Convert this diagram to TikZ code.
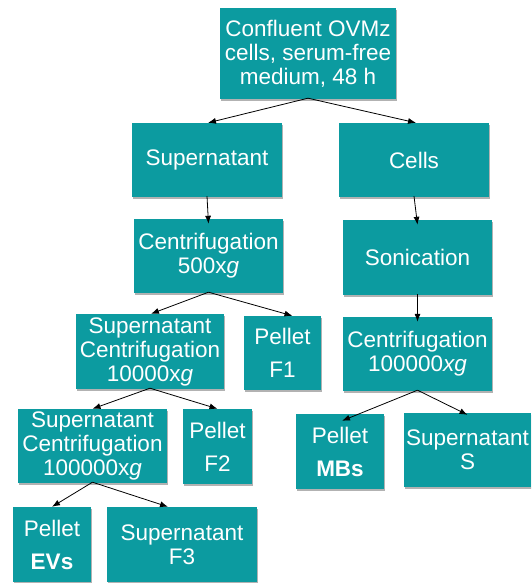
\documentclass[tikz,border=0pt]{standalone}
\usepackage{fontspec}
\setmainfont{Liberation Sans}
\usetikzlibrary{arrows.meta,shadows}
\definecolor{tealbox}{RGB}{12,155,160}
\tikzset{
  box/.style={rectangle, fill=tealbox, text=white, align=center, inner sep=0pt,
    font=\fontsize{22.5}{24}\selectfont,
    drop shadow={shadow xshift=1.2pt, shadow yshift=-1.8pt, opacity=0.3, fill=black}},
  link/.style={->, line width=0.8pt}
}
\begin{document}
\begin{tikzpicture}[x=1pt, y=-1pt, >={Latex[length=8pt,width=6pt]}]
\useasboundingbox (0,0) rectangle (531,583);
\clip (0,0) rectangle (531,583);
% top of the tree
\node[box, minimum width=176, minimum height=91] (start) at (308,53.5)
  {Confluent OVMz\\cells, serum-free\\medium, 48 h};
\node[box, minimum width=150, minimum height=74] (sup) at (207,160) {Supernatant};
\node[box, minimum width=150, minimum height=74] (cells) at (414,160) {Cells};
% left branch
\node[box, minimum width=149, minimum height=74] (cent1) at (208.5,256)
  {Centrifugation\\500x\textit{g}};
\node[box, minimum width=148, minimum height=75] (supcent2) at (150,351.5)
  {Supernatant\\Centrifugation\\10000x\textit{g}};
\node[box, minimum width=77, minimum height=74] (f1) at (282.5,353) {Pellet\\[9pt]F1};
\node[box, minimum width=149, minimum height=74] (supcent3) at (92.5,446)
  {Supernatant\\Centrifugation\\100000x\textit{g}};
\node[box, minimum width=69, minimum height=75] (f2) at (217.5,446.5) {Pellet\\[9pt]F2};
\node[box, minimum width=78, minimum height=75] (evs) at (52,544.5)
  {Pellet\\[9pt]\textbf{EVs}};
\node[box, minimum width=150, minimum height=75] (f3) at (182,544.5) {Supernatant\\F3};
% right branch
\node[box, minimum width=149, minimum height=75] (son) at (417.5,257.5) {Sonication};
\node[box, minimum width=149, minimum height=74] (cent2) at (417.5,354)
  {Centrifugation\\100000\textit{xg}};
\node[box, minimum width=88, minimum height=75] (mbs) at (340,451.5)
  {Pellet\\[9pt]\textbf{MBs}};
\node[box, minimum width=127, minimum height=74] (sups) at (467.5,450) {Supernatant\\S};
% connectors
\draw[link] ([yshift=1]start.south) -- ([xshift=1]sup.north);
\draw[link] ([yshift=1]start.south) -- ([xshift=2]cells.north);
\draw[link] ([yshift=1]sup.south) -- ([yshift=-5]cent1.north);
\draw[link] ([yshift=1]cells.south) -- ([yshift=-5]son.north);
\draw[link] ([yshift=1]cent1.south) -- ([xshift=1]supcent2.north);
\draw[link] ([yshift=1]cent1.south) -- ([xshift=10]f1.north);
\draw[link] ([yshift=1]supcent2.south) -- (supcent3.north);
\draw[link] ([yshift=1]supcent2.south) -- (f2.north);
\draw[link] ([yshift=1]supcent3.south) -- (evs.north);
\draw[link] ([yshift=1]supcent3.south) -- ([xshift=-14]f3.north);
\draw[link] ([yshift=1]son.south) -- ([yshift=-5]cent2.north);
\draw[link] ([yshift=1]cent2.south) -- ([xshift=2,yshift=-7]mbs.north);
\draw[link] ([yshift=1]cent2.south) -- ([yshift=-2]sups.north);
\end{tikzpicture}
\end{document}
